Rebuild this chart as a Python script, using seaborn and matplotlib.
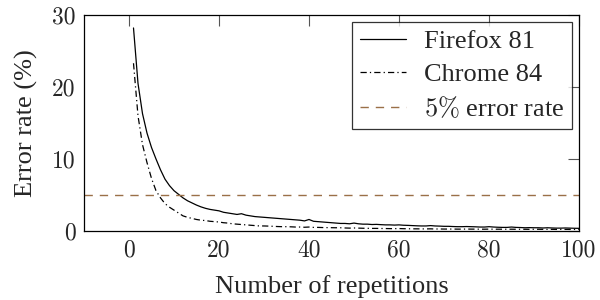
import matplotlib
matplotlib.use("Agg")
import matplotlib.pyplot as plt
import seaborn as sns
import numpy as np
import pandas as pd

repetitions = list(range(1, 101))
firefox_81 = [
    28.2, 20.5, 16.3, 13.6, 11.6, 10.0, 8.5, 7.2, 6.3, 5.6,
    5.1, 4.6, 4.2, 3.9, 3.6, 3.35, 3.15, 3.0, 2.9, 2.8,
    2.6, 2.5, 2.4, 2.3, 2.4, 2.2, 2.1, 2.0, 1.95, 1.9,
    1.85, 1.8, 1.75, 1.7, 1.65, 1.6, 1.55, 1.5, 1.4, 1.6,
    1.35, 1.3, 1.25, 1.2, 1.15, 1.1, 1.05, 1.05, 1.0, 1.1,
    1.0, 0.95, 0.95, 0.9, 0.92, 0.88, 0.85, 0.85, 0.82, 0.85,
    0.8, 0.78, 0.75, 0.72, 0.7, 0.7, 0.75, 0.7, 0.68, 0.65,
    0.65, 0.62, 0.6, 0.6, 0.62, 0.6, 0.58, 0.55, 0.55, 0.6,
    0.55, 0.52, 0.5, 0.5, 0.55, 0.5, 0.48, 0.45, 0.47, 0.45,
    0.45, 0.42, 0.45, 0.42, 0.4, 0.4, 0.42, 0.4, 0.38, 0.37,
]
chrome_84 = [
    23.3, 16.0, 12.0, 9.5, 7.3, 5.6, 4.6, 3.8, 3.3, 2.9,
    2.5, 2.1, 1.9, 1.75, 1.6, 1.5, 1.45, 1.35, 1.3, 1.25,
    1.15, 1.1, 1.0, 0.95, 0.9, 0.85, 0.8, 0.75, 0.7, 0.7,
    0.68, 0.65, 0.62, 0.6, 0.6, 0.58, 0.55, 0.55, 0.52, 0.55,
    0.5, 0.5, 0.48, 0.47, 0.46, 0.45, 0.45, 0.42, 0.4, 0.42,
    0.4, 0.38, 0.37, 0.36, 0.36, 0.35, 0.34, 0.33, 0.33, 0.34,
    0.32, 0.31, 0.3, 0.3, 0.29, 0.29, 0.3, 0.28, 0.28, 0.27,
    0.27, 0.27, 0.26, 0.26, 0.27, 0.26, 0.26, 0.25, 0.25, 0.26,
    0.25, 0.25, 0.25, 0.24, 0.25, 0.24, 0.24, 0.24, 0.23, 0.24,
    0.24, 0.23, 0.23, 0.23, 0.22, 0.23, 0.22, 0.22, 0.22, 0.22,
]
threshold = 5
series_labels = ["Firefox 81", "Chrome 84", r"$5\%$ error rate"]
x_ticks = [0, 20, 40, 60, 80, 100]
y_ticks = [0, 10, 20, 30]

sns.set_theme(style="white")
plt.rcParams["font.family"] = ["Liberation Serif", "DejaVu Serif"]
plt.rcParams["mathtext.fontset"] = "cm"

fig = plt.figure(figsize=(6, 3), dpi=100)
ax = fig.add_axes([0.14, 0.23, 0.825, 0.72])

sns.lineplot(x=repetitions, y=firefox_81, ax=ax, color="black", lw=0.9,
             label=series_labels[0])
sns.lineplot(x=repetitions, y=chrome_84, ax=ax, color="black", lw=0.9,
             label=series_labels[1])
ax.lines[1].set_dashes([5, 2.5, 1, 2.5])
ax.axhline(threshold, color="#9a7048", lw=1.0, dashes=(6, 5),
           label=series_labels[2])

ax.set_xlim(-10, 100)
ax.set_ylim(0, 30)
ax.set_xticks(x_ticks)
ax.set_yticks(y_ticks)
tick_font = {"family": "cmr10", "size": 17}
ax.set_xticklabels([str(v) for v in x_ticks], fontdict=tick_font)
ax.set_yticklabels([str(v) for v in y_ticks], fontdict=tick_font)
ax.tick_params(direction="in", length=8, width=0.8, color="#555555",
               top=True, right=True, pad=6)
for s in ax.spines.values():
    s.set_color("black")
    s.set_linewidth(0.9)
ax.set_xlabel("Number of repetitions", fontsize=19, labelpad=10)
ax.set_ylabel("Error rate (%)", fontsize=19, labelpad=10)

leg = ax.legend(loc="upper right", fontsize=19, frameon=True, fancybox=False,
                edgecolor="black", borderaxespad=0.25, handlelength=1.75,
                labelspacing=0.36, borderpad=0.3, handletextpad=0.7)
leg.get_frame().set_linewidth(0.9)

fig.savefig("out.png", dpi=100)
